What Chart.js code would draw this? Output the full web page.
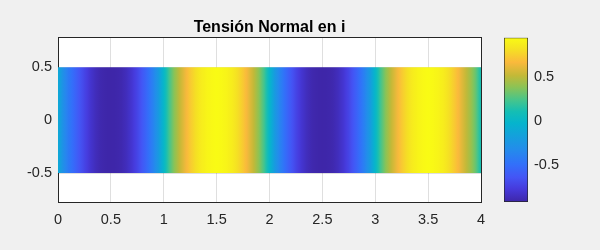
<!DOCTYPE html>
<html>
<head>
<meta charset="utf-8">
<script src="https://cdn.jsdelivr.net/npm/chart.js@4.4.1/dist/chart.umd.min.js"></script>
<style>
  body { margin: 0; background: #f0f0f0; }
  #wrap { position: relative; width: 600px; height: 250px; }
  canvas { position: absolute; top: 0; }
</style>
</head>
<body>
<div id="wrap">
  <canvas id="field" width="600" height="250" style="left:0"></canvas>
  <canvas id="cbar" width="120" height="250" style="left:480px"></canvas>
</div>
<script>
// sample positions along the bar and the normal stress read at each one
const xPos = [0, 0.05, 0.1, 0.15, 0.2, 0.25, 0.3, 0.35, 0.4, 0.45,
  0.5, 0.55, 0.6, 0.65, 0.7, 0.75, 0.8, 0.85, 0.9, 0.95,
  1, 1.05, 1.1, 1.15, 1.2, 1.25, 1.3, 1.35, 1.4, 1.45,
  1.5, 1.55, 1.6, 1.65, 1.7, 1.75, 1.8, 1.85, 1.9, 1.95,
  2, 2.05, 2.1, 2.15, 2.2, 2.25, 2.3, 2.35, 2.4, 2.45,
  2.5, 2.55, 2.6, 2.65, 2.7, 2.75, 2.8, 2.85, 2.9, 2.95,
  3, 3.05, 3.1, 3.15, 3.2, 3.25, 3.3, 3.35, 3.4, 3.45,
  3.5, 3.55, 3.6, 3.65, 3.7, 3.75, 3.8, 3.85, 3.9, 3.95, 4];
const stress = [-0.1, -0.3, -0.43, -0.53, -0.63, -0.72, -0.8, -0.86, -0.9, -0.915,
  -0.92, -0.915, -0.9, -0.86, -0.8, -0.72, -0.62, -0.51, -0.38, -0.22,
  0, 0.22, 0.38, 0.51, 0.62, 0.72, 0.8, 0.86, 0.9, 0.925,
  0.94, 0.925, 0.9, 0.86, 0.8, 0.72, 0.62, 0.51, 0.38, 0.22,
  0, -0.22, -0.38, -0.51, -0.62, -0.72, -0.8, -0.86, -0.9, -0.915,
  -0.92, -0.915, -0.9, -0.86, -0.8, -0.72, -0.62, -0.51, -0.38, -0.22,
  0, 0.22, 0.38, 0.51, 0.62, 0.72, 0.8, 0.86, 0.9, 0.925,
  0.94, 0.925, 0.9, 0.86, 0.8, 0.72, 0.63, 0.53, 0.43, 0.3, 0.1];
const bandEdges = [-0.5, 0.5];
const xTicks = [0, 0.5, 1, 1.5, 2, 2.5, 3, 3.5, 4];
const yTicks = [-0.5, 0, 0.5];
const cbTicks = [-0.5, 0, 0.5];

const axisColor = "#262626";
const gridColor = "rgba(38,38,38,0.15)";
const fontFamily = "'Liberation Sans', Arial, sans-serif";
const tickFont = { family: fontFamily, size: 14.5 };

// parula-like colormap
const cmap = [
  [0.00, 62, 38, 168],
  [0.08, 70, 58, 220],
  [0.15, 68, 85, 245],
  [0.23, 50, 112, 250],
  [0.32, 35, 140, 235],
  [0.40, 20, 160, 220],
  [0.48, 5, 180, 205],
  [0.55, 20, 190, 180],
  [0.62, 70, 197, 140],
  [0.70, 140, 195, 85],
  [0.77, 195, 185, 55],
  [0.85, 250, 185, 60],
  [0.93, 245, 225, 35],
  [1.00, 249, 251, 20]
];

const cmin = Math.min(...stress);
const cmax = Math.max(...stress);

function colorFor(v) {
  let t = (v - cmin) / (cmax - cmin);
  t = Math.max(0, Math.min(1, t));
  for (let i = 1; i < cmap.length; i++) {
    if (t <= cmap[i][0]) {
      const a = cmap[i - 1], b = cmap[i];
      const f = (t - a[0]) / (b[0] - a[0]);
      const c = [1, 2, 3].map(k => Math.round(a[k] + (b[k] - a[k]) * f));
      return `rgb(${c[0]},${c[1]},${c[2]})`;
    }
  }
  return `rgb(${cmap[cmap.length - 1].slice(1).join(",")})`;
}

function bandFill(context) {
  const chart = context.chart;
  const x = chart.scales.x;
  if (!chart.chartArea || !x) return "#cccccc";
  const x0 = x.getPixelForValue(xPos[0]);
  const x1 = x.getPixelForValue(xPos[xPos.length - 1]);
  const g = chart.ctx.createLinearGradient(x0, 0, x1, 0);
  for (let i = 0; i < xPos.length; i++) {
    const p = x.getPixelForValue(xPos[i]);
    g.addColorStop((p - x0) / (x1 - x0), colorFor(stress[i]));
    if (i < xPos.length - 1) {
      // shading interp: step the colormap between two samples
      const q = x.getPixelForValue(xPos[i + 1]);
      for (let s = 1; s < 3; s++) {
        const v = stress[i] + (stress[i + 1] - stress[i]) * s / 3;
        g.addColorStop((p + (q - p) * s / 3 - x0) / (x1 - x0), colorFor(v));
      }
    }
  }
  return g;
}

function barFill(context) {
  const chart = context.chart;
  const y = chart.scales.y;
  if (!chart.chartArea || !y) return "#cccccc";
  const g = chart.ctx.createLinearGradient(0, y.getPixelForValue(cmin), 0, y.getPixelForValue(cmax));
  cmap.forEach(c => g.addColorStop(c[0], `rgb(${c[1]},${c[2]},${c[3]})`));
  return g;
}

const frame = {
  id: "frame",
  beforeDraw(chart) {
    const { ctx, chartArea: a } = chart;
    ctx.save();
    ctx.fillStyle = "#f0f0f0";
    ctx.fillRect(0, 0, chart.width, chart.height);
    ctx.fillStyle = "#ffffff";
    ctx.fillRect(a.left, a.top, a.right - a.left, a.bottom - a.top);
    ctx.restore();
  }
};

const setTicks = list => scale => { scale.ticks = list.map(v => ({ value: v })); };

new Chart(document.getElementById("field"), {
  type: "line",
  data: {
    datasets: [{
      data: [{ x: xPos[0], y: bandEdges[1] }, { x: xPos[xPos.length - 1], y: bandEdges[1] }],
      fill: { value: bandEdges[0] },
      backgroundColor: bandFill,
      borderWidth: 0,
      pointRadius: 0
    }]
  },
  options: {
    responsive: false,
    animation: false,
    layout: { padding: 0 },
    plugins: {
      legend: { display: false },
      tooltip: { enabled: false },
      title: {
        display: true,
        fullSize: false,
        text: "Tensión Normal en i",
        color: "#000000",
        font: { family: fontFamily, size: 16, weight: "bold", lineHeight: 1.2 },
        padding: { top: 18.4, bottom: 0.1 }
      }
    },
    scales: {
      x: {
        type: "linear", position: "bottom", min: 0, max: 4,
        afterBuildTicks: setTicks(xTicks),
        afterFit: s => { s.height = 47.3; },
        grid: { color: gridColor, drawTicks: false },
        border: { color: axisColor },
        ticks: { color: axisColor, font: tickFont, padding: 9, maxRotation: 0, callback: v => String(v) }
      },
      x2: {
        type: "linear", position: "top", min: 0, max: 4,
        afterFit: s => { s.height = 0; },
        grid: { display: false, drawTicks: false },
        border: { color: axisColor },
        ticks: { display: false }
      },
      y: {
        type: "linear", position: "left", min: -0.78, max: 0.78,
        afterBuildTicks: setTicks(yTicks),
        afterFit: s => { s.width = 58; },
        grid: { color: gridColor, drawTicks: false },
        border: { color: axisColor },
        ticks: { color: axisColor, font: tickFont, padding: 6, callback: v => String(v) }
      },
      y2: {
        type: "linear", position: "right", min: -0.78, max: 0.78,
        afterFit: s => { s.width = 119; },
        grid: { display: false, drawTicks: false },
        border: { color: axisColor },
        ticks: { display: false }
      }
    }
  },
  plugins: [frame]
});

new Chart(document.getElementById("cbar"), {
  type: "bar",
  data: {
    labels: [""],
    datasets: [{
      data: [[cmin, cmax]],
      backgroundColor: barFill,
      borderColor: axisColor,
      borderWidth: 1,
      borderSkipped: false,
      barPercentage: 1,
      categoryPercentage: 1
    }]
  },
  options: {
    responsive: false,
    animation: false,
    layout: { padding: { left: 24, top: 37.7, bottom: 48, right: 0 } },
    plugins: { legend: { display: false }, tooltip: { enabled: false } },
    scales: {
      x: { display: false },
      y: {
        position: "right", min: cmin, max: cmax,
        afterBuildTicks: setTicks(cbTicks),
        afterFit: s => { s.width = 72; },
        grid: { display: false, drawTicks: false },
        border: { display: false },
        ticks: { color: axisColor, font: tickFont, padding: 6, callback: v => String(v) }
      }
    }
  }
});
</script>
</body>
</html>
